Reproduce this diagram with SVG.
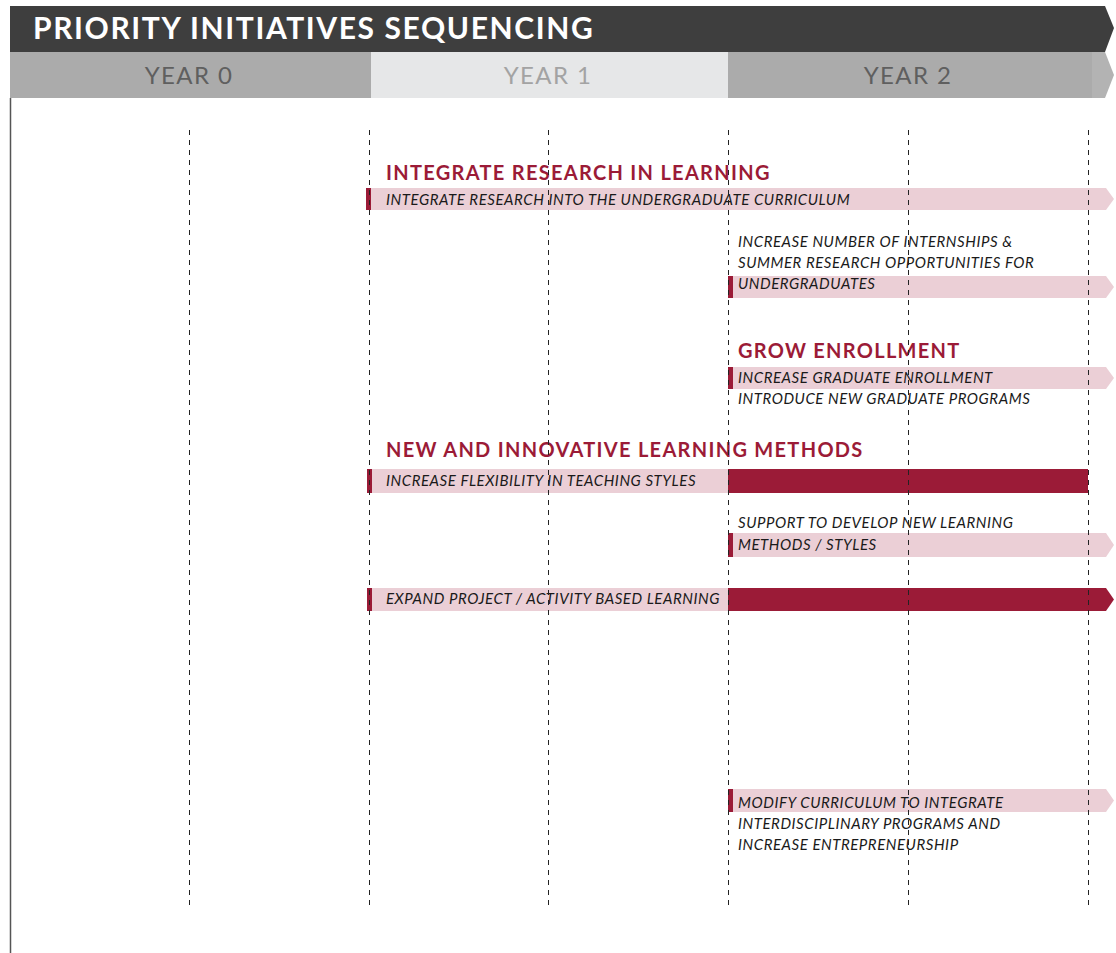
<svg xmlns="http://www.w3.org/2000/svg" width="1116" height="953" viewBox="0 0 1116 953">
  <style>
    .title { font-family: Lato, "Open Sans", sans-serif; font-weight: 700; font-size: 30px; letter-spacing: 1.6px; fill: #ffffff; }
    .year { font-family: Lato, "Open Sans", sans-serif; font-size: 24px; letter-spacing: 1.4px; text-anchor: middle; }
    .head { font-family: Lato, "Open Sans", sans-serif; font-weight: 700; font-size: 20px; letter-spacing: 1.3px; fill: #9b1b37; }
    .item { font-family: Lato, "Open Sans", sans-serif; font-style: italic; font-size: 15px; letter-spacing: 0.55px; fill: #1a1a1a; }
    .bar { fill: #ebcfd6; }
    .solid { fill: #9b1b37; }
    .mark { fill: #9b1b37; }
    .grid line { stroke: #222; stroke-width: 1; stroke-dasharray: 5 5; }
  </style>

  <rect x="0" y="0" width="1116" height="953" fill="#ffffff"/>

  <!-- title banner -->
  <g id="title">
    <polygon points="10,6 1105,6 1114,28 1105,52 10,52" fill="#3e3e3e"/>
    <text class="title" x="33" y="39">PRIORITY INITIATIVES SEQUENCING</text>
  </g>

  <!-- year scale -->
  <g id="years">
    <rect x="10" y="52" width="361" height="46" fill="#ababab"/>
    <rect x="371" y="52" width="357" height="46" fill="#e6e7e8"/>
    <rect x="728" y="52" width="364" height="46" fill="#ababab"/>
    <polygon points="1092,52 1105,52 1114,75 1105,98 1092,98" fill="#b3b3b3"/>
    <text class="year" x="189" y="84" fill="#5f5f5f">YEAR 0</text>
    <text class="year" x="548" y="84" fill="#a3a3a3">YEAR 1</text>
    <text class="year" x="908" y="84" fill="#5f5f5f">YEAR 2</text>
  </g>

  <line x1="10.5" y1="98" x2="10.5" y2="953" stroke="#555" stroke-width="1.5"/>

  <!-- initiative rows -->
  <g id="research-curriculum">
    <text class="head" x="386" y="180">INTEGRATE RESEARCH IN LEARNING</text>
    <polygon class="bar" points="366,188 1106,188 1114,199 1106,210 366,210"/>
    <rect class="mark" x="366" y="188" width="5" height="22"/>
    <text class="item" x="386" y="205">INTEGRATE RESEARCH INTO THE UNDERGRADUATE CURRICULUM</text>
  </g>

  <g id="internships">
    <text class="item" x="738" y="247">INCREASE NUMBER OF INTERNSHIPS &amp;</text>
    <text class="item" x="738" y="268">SUMMER RESEARCH OPPORTUNITIES FOR</text>
    <polygon class="bar" points="728,276 1106,276 1114,287 1106,298 728,298"/>
    <rect class="mark" x="728" y="276" width="5" height="22"/>
    <text class="item" x="738" y="289">UNDERGRADUATES</text>
  </g>

  <g id="grow-enrollment">
    <text class="head" x="738" y="358">GROW ENROLLMENT</text>
    <polygon class="bar" points="728,367 1106,367 1114,378 1106,389 728,389"/>
    <rect class="mark" x="728" y="367" width="5" height="22"/>
    <text class="item" x="738" y="383">INCREASE GRADUATE ENROLLMENT</text>
    <text class="item" x="738" y="404">INTRODUCE NEW GRADUATE PROGRAMS</text>
  </g>

  <g id="teaching-flexibility">
    <text class="head" x="386" y="457">NEW AND INNOVATIVE LEARNING METHODS</text>
    <rect class="bar" x="367" y="469" width="361" height="24"/>
    <rect class="solid" x="728" y="469" width="360" height="24"/>
    <rect class="mark" x="367" y="469" width="5" height="24"/>
    <text class="item" x="386" y="486">INCREASE FLEXIBILITY IN TEACHING STYLES</text>
  </g>

  <g id="new-methods">
    <text class="item" x="738" y="528">SUPPORT TO DEVELOP NEW LEARNING</text>
    <polygon class="bar" points="728,533 1106,533 1114,545 1106,557 728,557"/>
    <rect class="mark" x="728" y="533" width="5" height="24"/>
    <text class="item" x="738" y="550">METHODS / STYLES</text>
  </g>

  <g id="project-learning">
    <rect class="bar" x="367" y="588" width="361" height="23"/>
    <polygon class="solid" points="728,588 1106,588 1114,599.5 1106,611 728,611"/>
    <rect class="mark" x="367" y="588" width="5" height="23"/>
    <text class="item" x="386" y="604">EXPAND PROJECT / ACTIVITY BASED LEARNING</text>
  </g>

  <g id="interdisciplinary">
    <polygon class="bar" points="728,789 1106,789 1114,800.5 1106,812 728,812"/>
    <rect class="mark" x="728" y="789" width="5" height="23"/>
    <text class="item" x="738" y="808">MODIFY CURRICULUM TO INTEGRATE</text>
    <text class="item" x="738" y="829">INTERDISCIPLINARY PROGRAMS AND</text>
    <text class="item" x="738" y="850">INCREASE ENTREPRENEURSHIP</text>
  </g>

  <!-- half-year gridlines -->
  <g id="gridlines" class="grid">
    <line x1="189.5" y1="130" x2="189.5" y2="910"/>
    <line x1="369.5" y1="130" x2="369.5" y2="910"/>
    <line x1="548.5" y1="130" x2="548.5" y2="910"/>
    <line x1="728.5" y1="130" x2="728.5" y2="910"/>
    <line x1="908.5" y1="130" x2="908.5" y2="910"/>
    <line x1="1088.5" y1="130" x2="1088.5" y2="910"/>
  </g>
</svg>
